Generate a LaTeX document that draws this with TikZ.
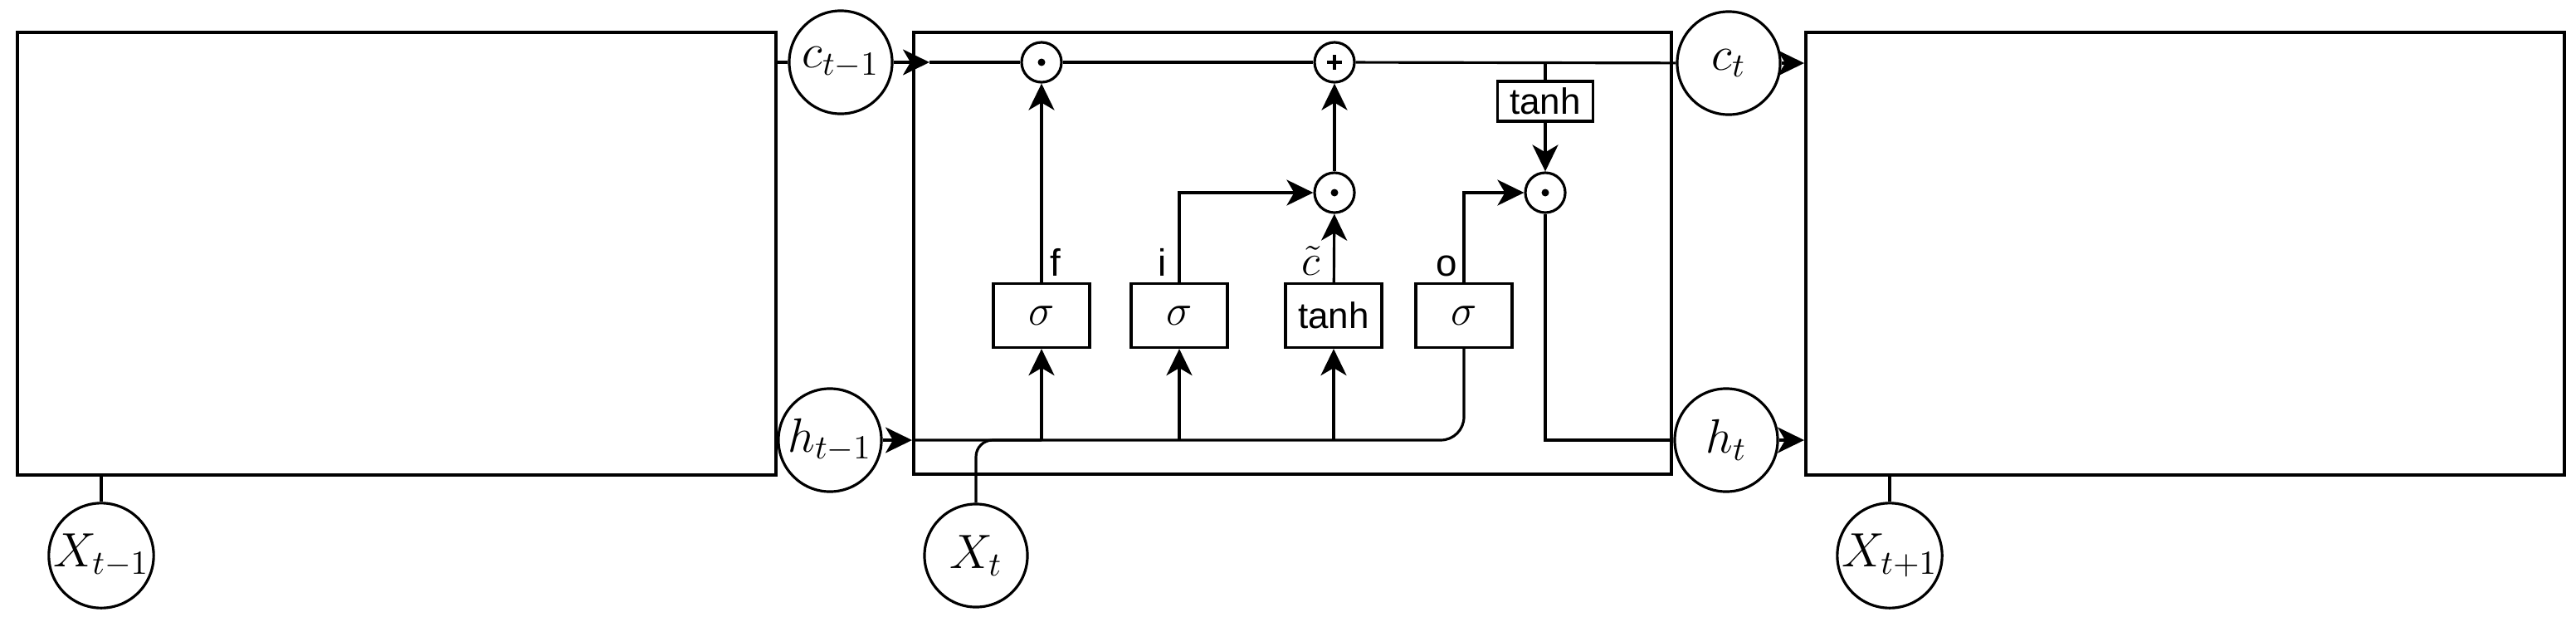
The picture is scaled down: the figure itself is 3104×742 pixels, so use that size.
\RequirePackage{fix-cm}
\documentclass[tikz,border=0pt]{standalone}
\usepackage{fontspec}
\newfontfamily\arialf{Liberation Sans}
\usetikzlibrary{arrows.meta}
\begin{document}
\begin{tikzpicture}[x=0.01cm,y=-0.01cm,
  arr/.style={-{Stealth[length=0.32cm,width=0.31cm,inset=0.09cm]}},
  conn/.style={line width=0.9pt},
  bigbox/.style={draw,line width=1.15pt,anchor=north west,inner sep=0pt},
  var/.style={circle,draw,line width=0.9pt,minimum size=1.24cm,inner sep=0pt,font=\fontsize{16.5}{19}\selectfont},
  gate/.style={draw,line width=0.9pt,minimum width=1.16cm,minimum height=0.77cm,inner sep=0pt,font=\fontsize{15}{18}\selectfont},
  sgate/.style={draw,line width=0.9pt,minimum width=1.15cm,minimum height=0.48cm,inner sep=0pt},
  tanhf/.style={font=\arialf\fontsize{12.5}{15}\selectfont},
  op/.style={circle,draw,line width=0.9pt,minimum size=0.48cm,inner sep=0pt},
  lbl/.style={font=\arialf\fontsize{13}{15}\selectfont,anchor=base,inner sep=0pt},
  mlbl/.style={font=\fontsize{15}{17}\selectfont,anchor=base,inner sep=0pt},
  ]
\useasboundingbox (0,0) rectangle (3104,742);

% big boxes
\node[bigbox,minimum width=9.13cm,minimum height=5.33cm] (L) at (19,37) {};
\node[bigbox,minimum width=9.12cm,minimum height=5.32cm] (M) at (1099,37) {};
\node[bigbox,minimum width=9.13cm,minimum height=5.33cm] (R) at (2174,37) {};

% state circles
\node[var] (ctm1) at (1013,75) {$c_{t-1}$};
\node[var] (ct) at (2083,76) {$c_{t}$};
\node[var] (hm1) at (1000,530) {$h_{t-1}$};
\node[var] (ht) at (2080,530) {$h_{t}$};
\node[var] (Xtm1) at (122,669) {$X_{t-1}$};
\node[var] (Xt) at (1176,669) {$X_{t}$};
\node[var] (Xtp1) at (2277,669) {$X_{t+1}$};

% operators
\node[op] (m1) at (1255,75) {};
\fill (m1.center) circle[radius=0.045cm];
\node[op] (pl) at (1608,75) {};
\draw[line width=1.1pt] ([xshift=-0.09cm]pl.center) -- ([xshift=0.09cm]pl.center);
\draw[line width=1.1pt] ([yshift=-0.09cm]pl.center) -- ([yshift=0.09cm]pl.center);
\node[op] (m2) at (1608,232) {};
\fill (m2.center) circle[radius=0.045cm];
\node[op] (m3) at (1862,232) {};
\fill (m3.center) circle[radius=0.045cm];

% gates
\node[gate] (fg) at (1255,380) {$\sigma$};
\node[gate] (ig) at (1421,380) {$\sigma$};
\node[gate,tanhf] (cg) at (1607,380) {tanh};
\node[gate] (og) at (1764,380) {$\sigma$};
\node[sgate,tanhf] (tg) at (1862,122) {tanh};

% labels
\node[lbl] (lf) at (1272,332) {f};
\node[lbl] (li) at (1401,332) {i};
\node[mlbl] (lc) at (1580,331) {$\tilde{c}$};
\node[lbl] (lo) at (1743,332) {o};

% cell state line
\coordinate (cin) at (1120,75);
\draw[conn] (L.east |- ctm1) -- (ctm1);
\draw[conn,arr] (ctm1) -- (cin);
\draw[conn] (cin) -- (m1);
\draw[conn] (m1) -- (pl);
\draw[conn] (pl) -- (ct);
\draw[conn,arr] (ct) -- (R.west |- ct);
\draw[conn] (tg.north |- pl) -- (tg.north);
\draw[conn,arr] (tg) -- (m3);

% gate connections
\draw[conn,arr] (fg) -- (m1);
\draw[conn,arr] (ig.north) |- (m2);
\draw[conn,arr] (cg) -- (m2);
\draw[conn,arr] (m2) -- (pl);
\draw[conn,arr] (og.north) |- (m3);
\draw[conn] (m3) |- (ht);
\draw[conn,arr] (ht) -- (R.west |- ht);

% hidden state line
\draw[conn] (L.east |- hm1) -- (hm1);
\draw[conn,arr] (hm1) -- (M.west |- hm1);
\draw[conn,rounded corners=0.28cm] (M.west |- hm1) -- (og.south |- hm1) -- (og.south);
\draw[conn,arr] (fg.south |- hm1) -- (fg.south);
\draw[conn,arr] (ig.south |- hm1) -- (ig.south);
\draw[conn,arr] (cg.south |- hm1) -- (cg.south);
\draw[conn,rounded corners=0.2cm] (Xt) -- (Xt |- hm1) -- (fg.south |- hm1);

% inputs of neighbouring cells
\draw[conn] (Xtm1) -- (Xtm1 |- L.south);
\draw[conn] (Xtp1) -- (Xtp1 |- R.south);
\end{tikzpicture}
\end{document}
